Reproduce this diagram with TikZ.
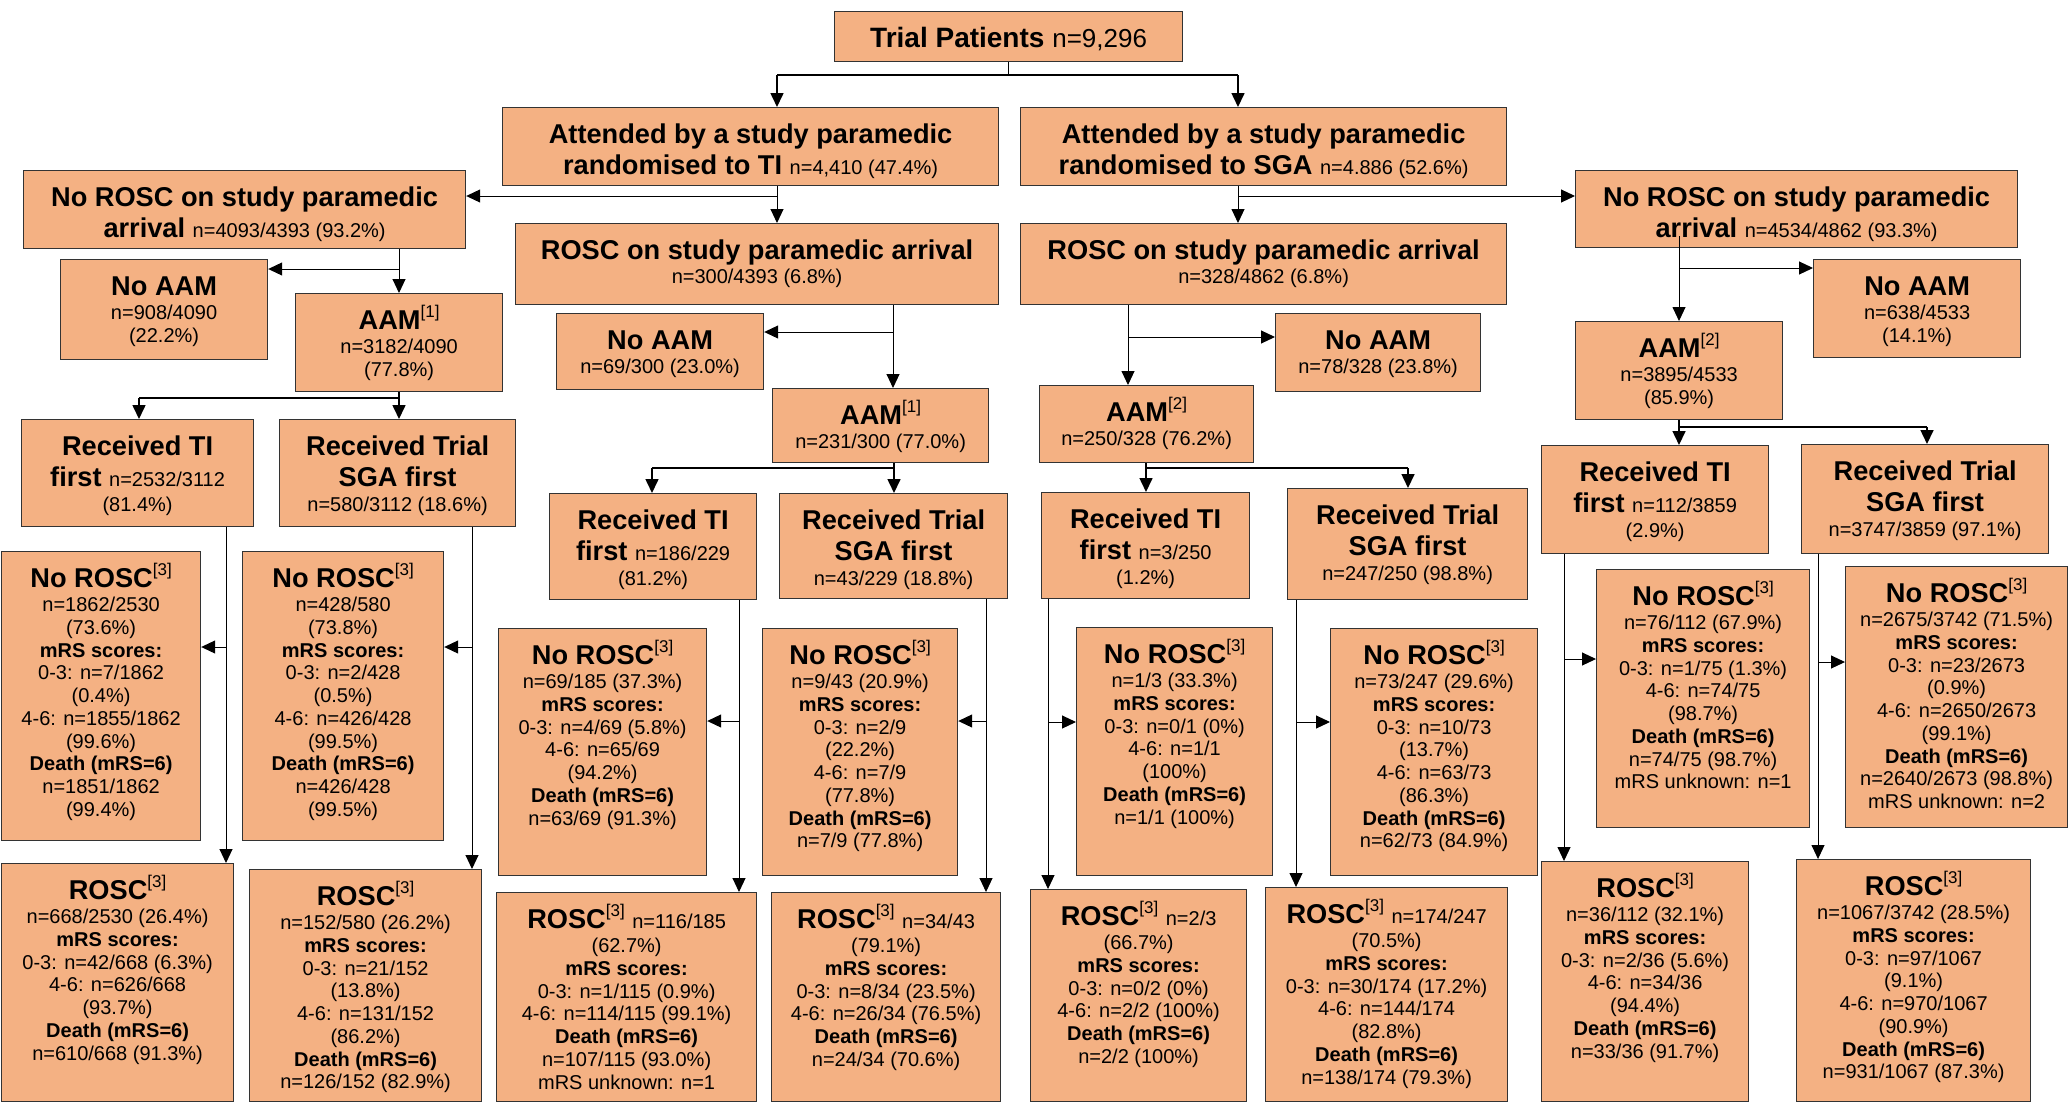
\documentclass[tikz,border=0pt]{standalone}
\usepackage{fontspec}
\setmainfont{Liberation Sans}
\usepackage{tikz}
\usetikzlibrary{arrows.meta}
\usetikzlibrary{calc}

\definecolor{boxfill}{RGB}{244,177,131}
\newcommand{\bighd}{\fontsize{13.6}{15.75}\selectfont\bfseries}
\newcommand{\smtx}{\fontsize{10}{11.35}\selectfont\mdseries}
\newcommand{\subl}{\par\smtx\vspace{1pt}}
\newcommand{\refn}[1]{\raisebox{6pt}{\fontsize{8.5}{8.5}\selectfont\mdseries[#1]}}
\newcommand{\cellbox}[3]{\parbox[c][\dimexpr #2pt/2\relax][t]{\dimexpr #1pt/2\relax}{\centering\rule{0pt}{17.75pt}#3}}

\begin{document}
\begin{tikzpicture}[x=0.5pt,y=0.5pt,yscale=-1,xscale=1,
  box/.style={draw=black!80,line width=0.6pt,fill=boxfill,inner sep=0pt,anchor=north west},
  tree/.style={line width=0.8pt},
  link/.style={line width=0.5pt},
  arr/.style={-{Triangle[length=7pt,width=6.5pt]}}]

\path[fill=white,use as bounding box] (0,0) rectangle (2070,1103);

% top levels
\node[box] (trial) at (834,11) {\cellbox{348}{50}{\fontsize{14}{16}\selectfont\bfseries Trial Patients {\mdseries\fontsize{13}{15}\selectfont n=9,296}}};
\node[box] (attTI) at (502,107) {\cellbox{496}{78}{\bighd Attended by a study paramedic\\randomised to TI {\smtx n=4,410 (47.4\%)}}};
\node[box] (attSGA) at (1020,107) {\cellbox{486}{78}{\bighd Attended by a study paramedic\\randomised to SGA {\smtx n=4.886 (52.6\%)}}};
\node[box] (norL) at (23,170) {\cellbox{442}{78}{\bighd No ROSC on study paramedic\\arrival {\smtx n=4093/4393 (93.2\%)}}};
\node[box] (roscTI) at (515,223) {\cellbox{483}{81}{\bighd ROSC on study paramedic arrival\subl n=300/4393 (6.8\%)}};
\node[box] (roscSGA) at (1020,223) {\cellbox{486}{81}{\bighd ROSC on study paramedic arrival\subl n=328/4862 (6.8\%)}};
\node[box] (norR) at (1575,170) {\cellbox{442}{77}{\bighd No ROSC on study paramedic\\arrival {\smtx n=4534/4862 (93.3\%)}}};

% AAM level
\node[box] (noaamL) at (60,259) {\cellbox{207}{100}{\bighd No AAM\subl n=908/4090\\(22.2\%)}};
\node[box] (aamL) at (295,293) {\cellbox{207}{98}{\bighd AAM\refn{1}\subl n=3182/4090\\(77.8\%)}};
\node[box] (noaamT) at (556,313) {\cellbox{207}{76}{\bighd No AAM\subl n=69/300 (23.0\%)}};
\node[box] (aamT) at (772,388) {\cellbox{216}{74}{\bighd AAM\refn{1}\subl n=231/300 (77.0\%)}};
\node[box] (noaamS) at (1275,313) {\cellbox{205}{78}{\bighd No AAM\subl n=78/328 (23.8\%)}};
\node[box] (aamS) at (1039,385) {\cellbox{214}{77}{\bighd AAM\refn{2}\subl n=250/328 (76.2\%)}};
\node[box] (noaamR) at (1813,259) {\cellbox{207}{98}{\bighd No AAM\subl n=638/4533\\(14.1\%)}};
\node[box] (aamR) at (1575,321) {\cellbox{207}{98}{\bighd AAM\refn{2}\subl n=3895/4533\\(85.9\%)}};

% first device
\node[box] (rtiA) at (21,419) {\cellbox{232}{107}{\bighd Received TI\\first {\smtx n=2532/3112}\subl(81.4\%)}};
\node[box] (rsgaA) at (279,419) {\cellbox{236}{107}{\bighd Received Trial\\SGA first\subl n=580/3112 (18.6\%)}};
\node[box] (rtiB) at (549,493) {\cellbox{207}{106}{\bighd Received TI\\first {\smtx n=186/229}\subl(81.2\%)}};
\node[box] (rsgaB) at (779,493) {\cellbox{228}{105}{\bighd Received Trial\\SGA first\subl n=43/229 (18.8\%)}};
\node[box] (rtiC) at (1041,492) {\cellbox{208}{106}{\bighd Received TI\\first {\smtx n=3/250}\subl(1.2\%)}};
\node[box] (rsgaC) at (1287,488) {\cellbox{240}{111}{\bighd Received Trial\\SGA first\subl n=247/250 (98.8\%)}};
\node[box] (rtiD) at (1541,445) {\cellbox{227}{108}{\bighd Received TI\\first {\smtx n=112/3859}\subl(2.9\%)}};
\node[box] (rsgaD) at (1801,444) {\cellbox{247}{109}{\bighd Received Trial\\SGA first\subl n=3747/3859 (97.1\%)}};

% no ROSC outcomes
\node[box] (nrA) at (1,551) {\cellbox{199}{289}{\bighd No ROSC\refn{3}\subl n=1862/2530\\(73.6\%)\\\textbf{mRS scores:}\\0-3: n=7/1862\\(0.4\%)\\4-6: n=1855/1862\\(99.6\%)\\\textbf{Death (mRS=6)}\\n=1851/1862\\(99.4\%)}};
\node[box] (nrB) at (242,551) {\cellbox{201}{289}{\bighd No ROSC\refn{3}\subl n=428/580\\(73.8\%)\\\textbf{mRS scores:}\\0-3: n=2/428\\(0.5\%)\\4-6: n=426/428\\(99.5\%)\\\textbf{Death (mRS=6)}\\n=426/428\\(99.5\%)}};
\node[box] (nrC) at (498,628) {\cellbox{208}{247}{\bighd No ROSC\refn{3}\subl n=69/185 (37.3\%)\\\textbf{mRS scores:}\\0-3: n=4/69 (5.8\%)\\4-6: n=65/69\\(94.2\%)\\\textbf{Death (mRS=6)}\\n=63/69 (91.3\%)}};
\node[box] (nrD) at (762,628) {\cellbox{195}{247}{\bighd No ROSC\refn{3}\subl n=9/43 (20.9\%)\\\textbf{mRS scores:}\\0-3: n=2/9\\(22.2\%)\\4-6: n=7/9\\(77.8\%)\\\textbf{Death (mRS=6)}\\n=7/9 (77.8\%)}};
\node[box] (nrE) at (1076,627) {\cellbox{196}{248}{\bighd No ROSC\refn{3}\subl n=1/3 (33.3\%)\\\textbf{mRS scores:}\\0-3: n=0/1 (0\%)\\4-6: n=1/1\\(100\%)\\\textbf{Death (mRS=6)}\\n=1/1 (100\%)}};
\node[box] (nrF) at (1330,628) {\cellbox{207}{247}{\bighd No ROSC\refn{3}\subl n=73/247 (29.6\%)\\\textbf{mRS scores:}\\0-3: n=10/73\\(13.7\%)\\4-6: n=63/73\\(86.3\%)\\\textbf{Death (mRS=6)}\\n=62/73 (84.9\%)}};
\node[box] (nrG) at (1596,569) {\cellbox{213}{258}{\bighd No ROSC\refn{3}\subl n=76/112 (67.9\%)\\\textbf{mRS scores:}\\0-3: n=1/75 (1.3\%)\\4-6: n=74/75\\(98.7\%)\\\textbf{Death (mRS=6)}\\n=74/75 (98.7\%)\\mRS unknown: n=1}};
\node[box] (nrH) at (1845,566) {\cellbox{222}{261}{\bighd No ROSC\refn{3}\subl n=2675/3742 (71.5\%)\\\textbf{mRS scores:}\\0-3: n=23/2673\\(0.9\%)\\4-6: n=2650/2673\\(99.1\%)\\\textbf{Death (mRS=6)}\\n=2640/2673 (98.8\%)\\mRS unknown: n=2}};

% ROSC outcomes
\node[box] (rA) at (1,863) {\cellbox{232}{238}{\bighd ROSC\refn{3}\subl n=668/2530 (26.4\%)\\\textbf{mRS scores:}\\0-3: n=42/668 (6.3\%)\\4-6: n=626/668\\(93.7\%)\\\textbf{Death (mRS=6)}\\n=610/668 (91.3\%)}};
\node[box] (rB) at (249,869) {\cellbox{232}{232}{\bighd ROSC\refn{3}\subl n=152/580 (26.2\%)\\\textbf{mRS scores:}\\0-3: n=21/152\\(13.8\%)\\4-6: n=131/152\\(86.2\%)\\\textbf{Death (mRS=6)}\\n=126/152 (82.9\%)}};
\node[box] (rC) at (496,892) {\cellbox{260}{209}{\bighd ROSC\refn{3} {\smtx n=116/185}\subl(62.7\%)\\\textbf{mRS scores:}\\0-3: n=1/115 (0.9\%)\\4-6: n=114/115 (99.1\%)\\\textbf{Death (mRS=6)}\\n=107/115 (93.0\%)\\mRS unknown: n=1}};
\node[box] (rD) at (771,892) {\cellbox{229}{209}{\bighd ROSC\refn{3} {\smtx n=34/43}\subl(79.1\%)\\\textbf{mRS scores:}\\0-3: n=8/34 (23.5\%)\\4-6: n=26/34 (76.5\%)\\\textbf{Death (mRS=6)}\\n=24/34 (70.6\%)}};
\node[box] (rE) at (1030,889) {\cellbox{216}{212}{\bighd ROSC\refn{3} {\smtx n=2/3}\subl(66.7\%)\\\textbf{mRS scores:}\\0-3: n=0/2 (0\%)\\4-6: n=2/2 (100\%)\\\textbf{Death (mRS=6)}\\n=2/2 (100\%)}};
\node[box] (rF) at (1265,887) {\cellbox{242}{214}{\bighd ROSC\refn{3} {\smtx n=174/247}\subl(70.5\%)\\\textbf{mRS scores:}\\0-3: n=30/174 (17.2\%)\\4-6: n=144/174\\(82.8\%)\\\textbf{Death (mRS=6)}\\n=138/174 (79.3\%)}};
\node[box] (rG) at (1541,861) {\cellbox{207}{240}{\bighd ROSC\refn{3}\subl n=36/112 (32.1\%)\\\textbf{mRS scores:}\\0-3: n=2/36 (5.6\%)\\4-6: n=34/36\\(94.4\%)\\\textbf{Death (mRS=6)}\\n=33/36 (91.7\%)}};
\node[box] (rH) at (1796,859) {\cellbox{234}{242}{\bighd ROSC\refn{3}\subl n=1067/3742 (28.5\%)\\\textbf{mRS scores:}\\0-3: n=97/1067\\(9.1\%)\\4-6: n=970/1067\\(90.9\%)\\\textbf{Death (mRS=6)}\\n=931/1067 (87.3\%)}};

% split after trial patients
\coordinate (t1) at (777,75);
\coordinate (t2) at (1238,75);
\draw[tree] (trial.south) -- (trial.south |- t1);
\draw[tree] (t1) -- (t2);
\draw[tree,arr] (t1) -- (t1 |- attTI.north);
\draw[tree,arr] (t2) -- (t2 |- attSGA.north);

% ROSC / no ROSC on arrival
\coordinate (a1) at (777,196);
\coordinate (a2) at (1238,196);
\draw[link,arr] (a1 |- attTI.south) -- (a1 |- roscTI.north);
\draw[link,arr] (a1) -- (a1 -| norL.east);
\draw[link,arr] (a2 |- attSGA.south) -- (a2 |- roscSGA.north);
\draw[link,arr] (a2) -- (a2 -| norR.west);

% AAM / no AAM
\coordinate (b1) at (399,269);
\coordinate (b2) at (893,332);
\coordinate (b3) at (1128,337);
\coordinate (b4) at (1679,268);
\draw[link,arr] (b1 |- norL.south) -- (b1 |- aamL.north);
\draw[link,arr] (b1) -- (b1 -| noaamL.east);
\draw[link,arr] (b2 |- roscTI.south) -- (b2 |- aamT.north);
\draw[link,arr] (b2) -- (b2 -| noaamT.east);
\draw[link,arr] (b3 |- roscSGA.south) -- (b3 |- aamS.north);
\draw[link,arr] (b3) -- (b3 -| noaamS.west);
\draw[link,arr] ($(b4 |- norR.south)+(0,-12)$) -- (b4 |- aamR.north);
\draw[link,arr] (b4) -- (b4 -| noaamR.west);

% first device splits
\coordinate (c1) at (139,398);
\draw[tree] (b1 |- aamL.south) -- (b1 |- c1) -- (c1);
\draw[tree,arr] (c1) -- (c1 |- rtiA.north);
\draw[tree,arr] (b1 |- c1) -- (b1 |- rsgaA.north);
\coordinate (c2) at (652,468);
\coordinate (c3) at (894,468);
\draw[tree] (c3 |- aamT.south) -- (c3) -- (c2);
\draw[tree,arr] (c2) -- (c2 |- rtiB.north);
\draw[tree,arr] (c3) -- (c3 |- rsgaB.north);
\coordinate (c4) at (1146,468);
\coordinate (c5) at (1408,468);
\draw[tree] (c4 |- aamS.south) -- (c4) -- (c5);
\draw[tree,arr] (c4) -- (c4 |- rtiC.north);
\draw[tree,arr] (c5) -- (c5 |- rsgaC.north);
\coordinate (c6) at (1679,427);
\coordinate (c7) at (1927,427);
\draw[tree] (c6 |- aamR.south) -- (c6) -- (c7);
\draw[tree,arr] (c6) -- (c6 |- rtiD.north);
\draw[tree,arr] (c7) -- (c7 |- rsgaD.north);

% outcomes
\coordinate (d1) at (226,647);
\coordinate (d2) at (472,647);
\coordinate (d3) at (739,721);
\coordinate (d4) at (986,721);
\coordinate (d5) at (1048,722);
\coordinate (d6) at (1296,722);
\coordinate (d7) at (1564,659);
\coordinate (d8) at (1818,662);
\draw[link,arr] (d1 |- rtiA.south) -- (d1 |- rA.north);
\draw[link,arr] (d1) -- (d1 -| nrA.east);
\draw[link,arr] (d2 |- rsgaA.south) -- (d2 |- rB.north);
\draw[link,arr] (d2) -- (d2 -| nrB.east);
\draw[link,arr] (d3 |- rtiB.south) -- (d3 |- rC.north);
\draw[link,arr] (d3) -- (d3 -| nrC.east);
\draw[link,arr] (d4 |- rsgaB.south) -- (d4 |- rD.north);
\draw[link,arr] (d4) -- (d4 -| nrD.east);
\draw[link,arr] (d5 |- rtiC.south) -- (d5 |- rE.north);
\draw[link,arr] (d5) -- (d5 -| nrE.west);
\draw[link,arr] (d6 |- rsgaC.south) -- (d6 |- rF.north);
\draw[link,arr] (d6) -- (d6 -| nrF.west);
\draw[link,arr] (d7 |- rtiD.south) -- (d7 |- rG.north);
\draw[link,arr] (d7) -- (d7 -| nrG.west);
\draw[link,arr] (d8 |- rsgaD.south) -- (d8 |- rH.north);
\draw[link,arr] (d8) -- (d8 -| nrH.west);
\end{tikzpicture}
\end{document}
